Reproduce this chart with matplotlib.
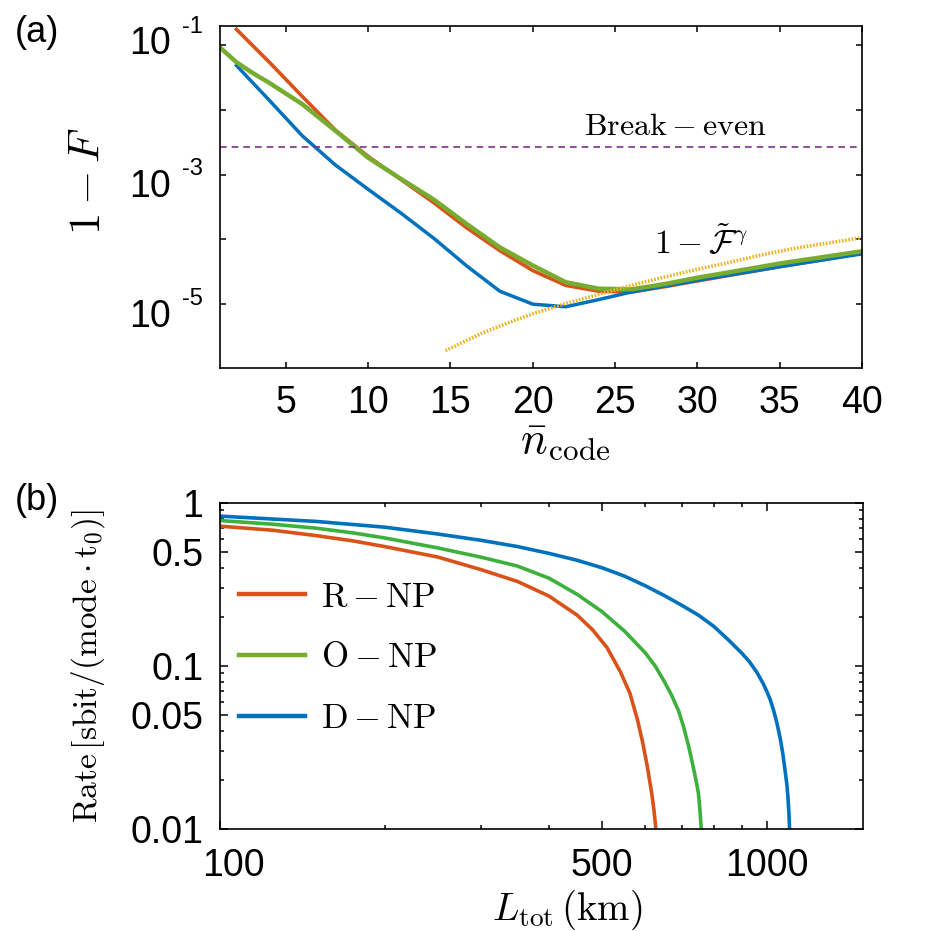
import matplotlib
matplotlib.use("Agg")
import matplotlib.pyplot as plt
from matplotlib.lines import Line2D
from matplotlib.ticker import FixedLocator, NullFormatter, NullLocator, FixedFormatter
from matplotlib.transforms import offset_copy, ScaledTranslation

plt.rcParams["font.family"] = ["Liberation Sans", "DejaVu Sans"]
plt.rcParams["mathtext.fontset"] = "cm"

# (a) 1 - F against mean n_code
n_red = [2, 4, 6, 8, 10, 12, 14, 16, 18, 20, 22, 24, 26, 28, 30, 35, 40]
f_red = [0.178, 0.0550, 0.0162, 4.90e-3, 1.91e-3, 8.32e-4, 3.63e-4, 1.48e-4,
         6.61e-5, 3.24e-5, 1.91e-5, 1.55e-5, 1.51e-5, 1.82e-5, 2.24e-5, 3.72e-5, 6.03e-5]
n_green = [1, 2, 3, 4, 6, 8, 10, 12, 14, 16, 18, 20, 22, 24, 26, 28, 30, 35, 40]
f_green = [0.0933, 0.0550, 0.0372, 0.0263, 0.0123, 4.79e-3, 1.82e-3, 8.51e-4, 4.07e-4,
           1.70e-4, 7.41e-5, 3.89e-5, 2.14e-5, 1.70e-5, 1.66e-5, 2.00e-5, 2.51e-5, 4.17e-5, 6.46e-5]
n_blue = [2, 4, 6, 8, 10, 12, 14, 16, 18, 20, 22, 24, 26, 28, 30, 35, 40]
f_blue = [0.0490, 0.0141, 3.98e-3, 1.41e-3, 5.89e-4, 2.51e-4, 1.02e-4, 3.80e-5,
          1.55e-5, 9.77e-6, 8.91e-6, 1.15e-5, 1.51e-5, 1.86e-5, 2.29e-5, 3.72e-5, 5.89e-5]
n_gamma = [14.7, 16, 17, 18, 19, 20, 22, 24, 26, 28, 30, 32, 34, 36, 38, 40]
f_gamma = [1.86e-6, 2.69e-6, 3.55e-6, 4.47e-6, 5.62e-6, 6.92e-6, 1.0e-5, 1.38e-5,
           1.91e-5, 2.57e-5, 3.39e-5, 4.37e-5, 5.75e-5, 7.24e-5, 8.71e-5, 1.05e-4]
break_even = 2.7e-3
a_xticks = [5, 10, 15, 20, 25, 30, 35, 40]
a_yticks = [1e-1, 1e-2, 1e-3, 1e-4, 1e-5]
a_ylabels = [("10", "-1", 1e-1), ("10", "-3", 1e-3), ("10", "-5", 1e-5)]

# (b) rate against total length
L_red = [100, 125, 150, 175, 200, 250, 300, 350, 400, 450, 480, 510, 540, 562, 580,
         593, 605, 616, 622, 627]
r_red = [0.72, 0.68, 0.63, 0.585, 0.54, 0.466, 0.39, 0.33, 0.268, 0.205, 0.167, 0.13,
         0.092, 0.068, 0.047, 0.034, 0.024, 0.0166, 0.013, 0.01]
L_green = [100, 125, 150, 175, 200, 250, 300, 350, 400, 450, 500, 550, 600, 625, 650,
           670, 690, 705, 720, 730, 740, 750, 755, 759]
r_green = [0.78, 0.74, 0.70, 0.655, 0.61, 0.53, 0.465, 0.41, 0.345, 0.275, 0.215, 0.163,
           0.12, 0.10, 0.080, 0.066, 0.053, 0.042, 0.032, 0.026, 0.021, 0.0166, 0.013, 0.01]
L_blue = [100, 150, 200, 250, 300, 350, 400, 450, 500, 550, 600, 650, 700, 750, 800,
          850, 900, 930, 960, 985, 1000, 1015, 1030, 1045, 1060, 1070, 1080, 1088, 1093,
          1098, 1101]
r_blue = [0.83, 0.77, 0.71, 0.645, 0.59, 0.54, 0.49, 0.445, 0.40, 0.355, 0.31, 0.27,
          0.235, 0.205, 0.175, 0.145, 0.12, 0.106, 0.091, 0.078, 0.07, 0.062, 0.053,
          0.044, 0.035, 0.029, 0.023, 0.019, 0.016, 0.0125, 0.01]
b_xticks = [100, 500, 1000]
b_xminor = [200, 300, 400, 600, 700, 800, 900]
b_yticks = [0.01, 0.05, 0.1, 0.5, 1]
b_yminor = [0.02, 0.03, 0.04, 0.06, 0.07, 0.08, 0.09, 0.2, 0.3, 0.4, 0.6, 0.7, 0.8, 0.9]
legend_names = [r"$\mathrm{R-NP}$", r"$\mathrm{O-NP}$", r"$\mathrm{D-NP}$"]

RED, GREEN, BLUE = "#D95319", "#77AC30", "#0072BD"
GREEN_B = "#3DB03D"
PURPLE, YELLOW = "#7E2F8E", "#EDB120"
TICK = 27

fig = plt.figure(figsize=(9.47, 9.31), dpi=100)

# ---- (a)
ax = fig.add_axes([0.2323, 0.6047, 0.678, 0.3673])
ax.set_yscale("log")
ax.plot(n_red, f_red, color=RED, lw=2.6)
ax.plot(n_blue, f_blue, color=BLUE, lw=2.5)
ax.plot(n_green, f_green, color=GREEN, lw=3.2)
ax.plot(n_gamma, f_gamma, color=YELLOW, lw=2.6, ls=(0, (0.45, 0.45)))
ax.axhline(break_even, color=PURPLE, lw=1.2, ls=(0, (4, 3)))
ax.set_xlim(1, 40)
ax.set_ylim(1e-6, 0.2)
ax.xaxis.set_major_locator(FixedLocator(a_xticks))
ax.yaxis.set_major_locator(FixedLocator(a_yticks))
ax.yaxis.set_minor_locator(NullLocator())
ax.yaxis.set_major_formatter(NullFormatter())
ax.tick_params(direction="in", top=True, right=True, length=4.5, width=1.1,
               labelsize=TICK, pad=12)
for s in ax.spines.values():
    s.set_linewidth(1.2)

# y tick labels drawn as "10" plus a small raised exponent
ytr = ax.get_yaxis_transform()
for (base, exp, val), dy in zip(a_ylabels, [14, 4.3, 3.6]):
    t = offset_copy(ytr, fig=fig, x=0, y=dy, units="points")
    ax.text(-0.0767, val, base, transform=t, ha="right", va="top", fontsize=TICK)
    t2 = offset_copy(ytr, fig=fig, x=0, y=dy + 7.5, units="points")
    ax.text(-0.059, val, exp, transform=t2, ha="left", va="top", fontsize=17)

ax.text(28.66, 10 ** -2.395, r"$\mathrm{Break-even}$", ha="center", va="baseline",
        fontsize=23)
ax.text(30.2, 10 ** -4.24, r"$1-\tilde{\mathcal{F}}^{\gamma}$", ha="center",
        va="baseline", fontsize=24)
ax.set_ylabel(r"$1-F$", fontsize=32)
ax.yaxis.set_label_coords(-0.173, 0.547)
ax.set_xlabel(r"$\bar{n}_{\mathrm{code}}$", fontsize=32)
ax.xaxis.set_label_coords(0.537, -0.155)
fig.text(15 / 947, 1 - 32 / 931, "(a)", fontsize=26, ha="left", va="center")

# ---- (b)
bx = fig.add_axes([0.2323, 0.1096, 0.679, 0.3502])
bx.set_xscale("log")
bx.set_yscale("log")
bx.plot(L_red, r_red, color=RED, lw=2.6)
bx.plot(L_green, r_green, color=GREEN_B, lw=2.6)
bx.plot(L_blue, r_blue, color=BLUE, lw=2.6)
bx.set_xlim(100, 1500)
bx.set_ylim(0.01, 1)
bx.xaxis.set_major_locator(FixedLocator(b_xticks))
bx.xaxis.set_major_formatter(FixedFormatter([str(v) for v in b_xticks]))
bx.xaxis.set_minor_locator(FixedLocator(b_xminor))
bx.xaxis.set_minor_formatter(NullFormatter())
bx.yaxis.set_major_locator(FixedLocator(b_yticks))
bx.yaxis.set_major_formatter(FixedFormatter(["0.01", "0.05", "0.1", "0.5", "1"]))
bx.yaxis.set_minor_locator(FixedLocator(b_yminor))
bx.yaxis.set_minor_formatter(NullFormatter())
bx.tick_params(which="both", direction="in", top=True, right=True, width=1.1,
               labelsize=TICK)
bx.tick_params(which="major", length=5.5)
bx.tick_params(which="minor", length=3.2)
bx.tick_params(axis="y", pad=12)
bx.tick_params(axis="x", pad=14)
for s in bx.spines.values():
    s.set_linewidth(1.2)
# first x label sits a little to the right of its tick
lbl0 = bx.get_xticklabels()[0]
lbl0.set_transform(lbl0.get_transform() + ScaledTranslation(13 / 100, 0, fig.dpi_scale_trans))

handles = [Line2D([], [], color=c, lw=3.2) for c in (RED, GREEN, BLUE)]
bx.legend(handles, legend_names, loc="center left", bbox_to_anchor=(0.03, 0.525),
          frameon=False, fontsize=25, handlelength=1.9, handletextpad=0.45,
          labelspacing=0.8, borderpad=0, borderaxespad=0)
bx.set_ylabel(r"$\mathrm{Rate}\,[\mathrm{sbit}/(\mathrm{mode}\cdot\mathrm{t}_0)]$",
              fontsize=24)
bx.yaxis.set_label_coords(-0.176, 0.5)
bx.set_xlabel(r"$L_{\mathrm{tot}}\,(\mathrm{km})$", fontsize=28)
bx.xaxis.set_label_coords(0.54, -0.18)
fig.text(15 / 947, 1 - 501 / 931, "(b)", fontsize=26, ha="left", va="center")

fig.savefig("out.png", dpi=100)
